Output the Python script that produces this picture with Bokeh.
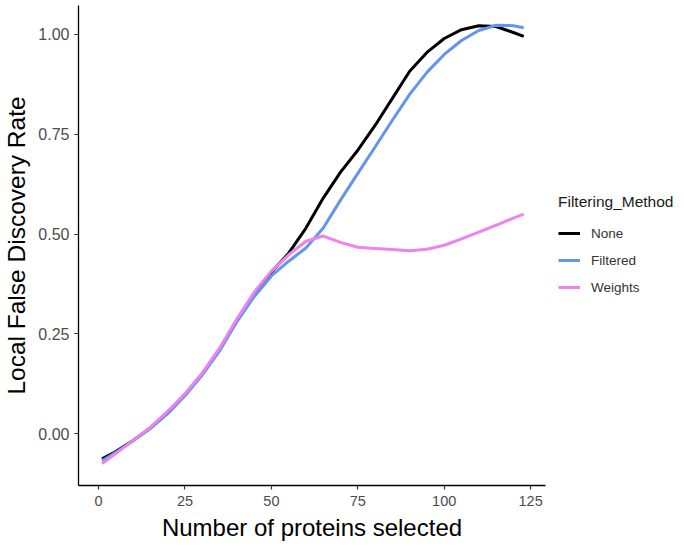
from bokeh.plotting import figure
from bokeh.models import Range1d, FixedTicker, Legend, LegendItem, NumeralTickFormatter
from bokeh.embed import file_html
from bokeh.resources import INLINE

# ---- data ----
proteins = [1, 5, 10, 15, 20, 25, 30, 35, 40, 45, 50, 55, 60, 65, 70, 75, 80, 85, 90, 95, 100, 105, 110, 115, 120, 123]
fdr_none = [-0.063, -0.045, -0.017, 0.014, 0.052, 0.097, 0.149, 0.21, 0.283, 0.35, 0.405, 0.452, 0.515, 0.59,
            0.655, 0.71, 0.772, 0.84, 0.908, 0.955, 0.99, 1.012, 1.022, 1.02, 1.005, 0.995]
fdr_filtered = [-0.068, -0.047, -0.018, 0.013, 0.05, 0.095, 0.147, 0.207, 0.28, 0.343, 0.395, 0.432, 0.465, 0.515,
                0.585, 0.652, 0.718, 0.785, 0.85, 0.905, 0.95, 0.985, 1.01, 1.023, 1.022, 1.017]
fdr_weights = [-0.075, -0.05, -0.017, 0.016, 0.056, 0.1, 0.152, 0.214, 0.287, 0.354, 0.407, 0.448, 0.482, 0.495,
               0.479, 0.467, 0.464, 0.461, 0.458, 0.462, 0.472, 0.488, 0.505, 0.522, 0.54, 0.55]
series_names = ["None", "Filtered", "Weights"]
series_colors = ["#000000", "#6495ED", "#EE82EE"]
x_ticks = [0, 25, 50, 75, 100, 125]
y_ticks = [0.0, 0.25, 0.5, 0.75, 1.0]

FONT = "Liberation Sans"

p = figure(frame_width=467, frame_height=480, output_backend="svg", toolbar_location=None,
           x_range=Range1d(-5.8, 129.3), y_range=Range1d(-0.13, 1.0726),
           min_border_left=78, min_border_right=10, min_border_top=5, min_border_bottom=54)
p.grid.visible = False
p.outline_line_color = None
p.background_fill_color = "white"

renderers = []
for name, ys, col in zip(series_names, [fdr_none, fdr_filtered, fdr_weights], series_colors):
    r = p.line(proteins, ys, line_color=col, line_width=3)
    renderers.append(r)

p.xaxis.ticker = FixedTicker(ticks=x_ticks)
p.yaxis.ticker = FixedTicker(ticks=y_ticks)
p.yaxis.formatter = NumeralTickFormatter(format="0.00")

for ax in [p.xaxis[0], p.yaxis[0]]:
    ax.axis_line_color = "#000000"
    ax.axis_line_width = 1.3
    ax.major_tick_line_color = "#333333"
    ax.major_tick_line_width = 1.2
    ax.major_tick_out = 4
    ax.major_tick_in = 0
    ax.minor_tick_line_color = None
    ax.major_label_text_font = FONT
    ax.major_label_text_color = "#4D4D4D"
    ax.axis_label_text_font = FONT
    ax.axis_label_text_font_style = "normal"
    ax.axis_label_text_color = "#000000"

p.xaxis.major_label_text_font_size = "14.5px"
p.yaxis.major_label_text_font_size = "16px"
p.xaxis.axis_label_text_font_size = "24px"
p.yaxis.axis_label_text_font_size = "24.5px"
p.xaxis.axis_label = "Number of proteins selected"
p.yaxis.axis_label = "Local False Discovery Rate"
p.xaxis.major_label_standoff = 6
p.yaxis.major_label_standoff = 5
p.xaxis.axis_label_standoff = 5
p.yaxis.axis_label_standoff = 5

legend = Legend(items=[LegendItem(label=n, renderers=[r]) for n, r in zip(series_names, renderers)],
                title="Filtering_Method", location="center_left")
legend.title_text_font = FONT
legend.title_text_font_size = "15.5px"
legend.title_text_font_style = "normal"
legend.title_text_color = "#1A1A1A"
legend.title_standoff = 12
legend.label_text_font = FONT
legend.label_text_font_size = "13.5px"
legend.label_text_color = "#333333"
legend.glyph_width = 22
legend.glyph_height = 20
legend.spacing = 7
legend.label_standoff = 11
legend.padding = 8
legend.margin = 13
legend.border_line_color = None
legend.background_fill_alpha = 0
p.add_layout(legend, "right")

open("out.html", "w").write(file_html(p, INLINE))
